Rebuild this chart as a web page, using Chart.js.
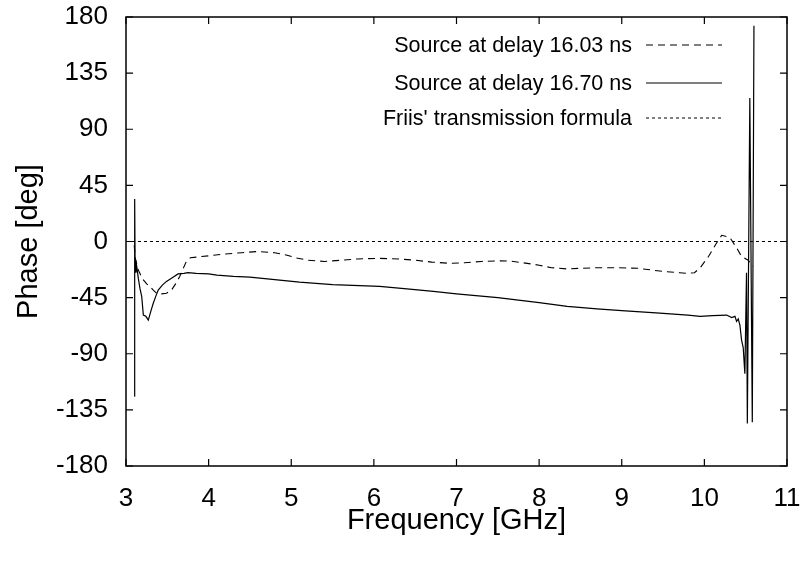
<!DOCTYPE html>
<html>
<head>
<meta charset="utf-8">
<script src="https://cdn.jsdelivr.net/npm/chart.js@4.4.1/dist/chart.umd.min.js"></script>
<style>
  html, body { margin: 0; padding: 0; background: #fff; }
  #wrap { width: 803px; height: 562px; position: relative; }
</style>
</head>
<body>
<div id="wrap"><canvas id="phaseChart"></canvas></div>
<script>
// Source at delay 16.03 ns (dashed)
const freqA = [3.10, 3.11, 3.15, 3.20, 3.25, 3.29, 3.33, 3.37, 3.43, 3.49, 3.55, 3.60, 3.65, 3.69, 3.73, 3.78,
    3.85, 4.00, 4.20, 4.40, 4.60, 4.80, 4.95, 5.05, 5.20, 5.40, 5.60, 5.80, 6.07, 6.30, 6.50, 6.70, 6.92,
    7.10, 7.30, 7.50, 7.65, 7.80, 8.00, 8.15, 8.34, 8.50, 8.70, 8.94, 9.20, 9.50, 9.70, 9.79, 9.88, 9.95,
    10.05, 10.14, 10.21, 10.27, 10.31, 10.38, 10.45, 10.53, 10.59];
const phaseA = [-3, -13, -23, -30, -34, -36, -39, -41.5, -42, -41.5, -39, -34, -28, -22, -16, -13,
    -12.5, -11.5, -10, -9, -8, -9, -11, -13, -15, -16, -15, -14, -13.5, -14, -15, -16.5, -17.5,
    -17, -16, -15.5, -15.7, -17, -19, -21, -22, -21.5, -21, -21, -21.5, -24, -25, -25.5, -25, -21,
    -12, -2, 5, 4, 3, -4, -12, -15, -20];

// Source at delay 16.70 ns (solid)
const freqB = [3.10, 3.105, 3.11, 3.12, 3.13, 3.15, 3.17, 3.19, 3.21, 3.24, 3.27, 3.30, 3.33, 3.36, 3.39,
    3.44, 3.49, 3.56, 3.63, 3.70, 3.75, 3.85, 4.00, 4.10, 4.30, 4.50, 4.80, 5.10, 5.50, 6.07, 6.40, 6.72,
    7.00, 7.50, 8.00, 8.34, 8.70, 9.00, 9.46, 9.80, 9.95, 10.10, 10.27, 10.33, 10.37, 10.39, 10.41, 10.43,
    10.45, 10.47, 10.49, 10.51, 10.52, 10.55, 10.58, 10.60];
const phaseB = [-124, 34, -15, -25, -20, -30, -38, -44, -59, -60, -63, -56, -49.5, -44, -39,
    -35, -32, -29, -26, -25.5, -25, -25.5, -26, -27, -28, -28.5, -30.5, -32.5, -34.5, -36, -38, -40,
    -42, -45, -49, -52, -54, -55.5, -57.5, -59, -60, -59.5, -59, -61, -60, -64, -62, -67,
    -79, -85, -106, -25, -146, 115, -145, 173];

// Friis' transmission formula
const freqF = [3, 11];
const phaseF = [0, 0];

const xTicks = [3, 4, 5, 6, 7, 8, 9, 10, 11];
const yTicks = [-180, -135, -90, -45, 0, 45, 90, 135, 180];

const seriesLabels = ['Source at delay 16.03 ns', 'Source at delay 16.70 ns', "Friis' transmission formula"];

const FONT = "'Liberation Sans', Arial, Helvetica, sans-serif";

function toPoints(xs, ys) {
    return xs.map((x, i) => ({ x: x, y: ys[i] }));
}

// labels may hang outside the plot box, so drop the padding Chart.js reserves for them
function noPad(axis) {
    axis.paddingTop = 0;
    axis.paddingBottom = 0;
    axis.paddingLeft = 0;
    axis.paddingRight = 0;
}

// frame, inward mirror ticks and the key, gnuplot style
const framePlugin = {
    id: 'frame',
    afterDraw(chart) {
        const ctx = chart.ctx;
        const a = chart.chartArea;
        const xs = chart.scales.x, ys = chart.scales.y;
        const tl = 7;
        ctx.save();
        ctx.strokeStyle = '#000';
        ctx.lineWidth = 1.5;
        ctx.setLineDash([]);
        ctx.strokeRect(a.left, a.top, a.right - a.left, a.bottom - a.top);
        ctx.lineWidth = 1.2;
        ctx.beginPath();
        xTicks.forEach(v => {
            const px = xs.getPixelForValue(v);
            ctx.moveTo(px, a.bottom); ctx.lineTo(px, a.bottom - tl);
            ctx.moveTo(px, a.top); ctx.lineTo(px, a.top + tl);
        });
        yTicks.forEach(v => {
            const py = ys.getPixelForValue(v);
            ctx.moveTo(a.left, py); ctx.lineTo(a.left + tl, py);
            ctx.moveTo(a.right, py); ctx.lineTo(a.right - tl, py);
        });
        ctx.stroke();

        // key
        const rows = [45, 83, 118];
        ctx.font = '21.5px ' + FONT;
        ctx.fillStyle = '#000';
        ctx.textAlign = 'right';
        ctx.textBaseline = 'middle';
        chart.data.datasets.forEach((ds, i) => {
            const y = rows[i];
            ctx.fillText(ds.label, 632, y + 1);
            ctx.setLineDash(ds.borderDash || []);
            ctx.lineWidth = ds.borderWidth;
            ctx.strokeStyle = ds.borderColor;
            ctx.beginPath();
            ctx.moveTo(646, y);
            ctx.lineTo(722, y);
            ctx.stroke();
        });
        ctx.restore();
    }
};

new Chart(document.getElementById('phaseChart'), {
    type: 'line',
    data: {
        datasets: [
            {
                label: seriesLabels[0],
                data: toPoints(freqA, phaseA),
                borderColor: '#000',
                borderWidth: 1.1,
                borderDash: [7, 5],
                pointRadius: 0,
                tension: 0
            },
            {
                label: seriesLabels[1],
                data: toPoints(freqB, phaseB),
                borderColor: '#000',
                borderWidth: 1.2,
                pointRadius: 0,
                tension: 0
            },
            {
                label: seriesLabels[2],
                data: toPoints(freqF, phaseF),
                borderColor: '#000',
                borderWidth: 1,
                borderDash: [3, 3],
                pointRadius: 0,
                tension: 0
            }
        ]
    },
    options: {
        responsive: true,
        maintainAspectRatio: false,
        animation: false,
        layout: { padding: { top: 17, right: 16, left: 0, bottom: 0 } },
        plugins: {
            legend: { display: false },
            tooltip: { enabled: false }
        },
        scales: {
            x: {
                type: 'linear',
                min: 3,
                max: 11,
                grid: { display: false, drawTicks: false },
                border: { display: false },
                afterBuildTicks: axis => { axis.ticks = xTicks.map(v => ({ value: v })); },
                afterFit: axis => { axis.height = 96; noPad(axis); },
                ticks: {
                    color: '#000',
                    padding: 17,
                    maxRotation: 0,
                    font: { family: FONT, size: 26 }
                },
                title: {
                    display: true,
                    text: 'Frequency [GHz]',
                    color: '#000',
                    font: { family: FONT, size: 29 },
                    padding: { top: 0, bottom: 24 }
                }
            },
            y: {
                type: 'linear',
                min: -180,
                max: 180,
                grid: { display: false, drawTicks: false },
                border: { display: false },
                afterBuildTicks: axis => { axis.ticks = yTicks.map(v => ({ value: v })); },
                afterFit: axis => { axis.width = 126; noPad(axis); },
                ticks: {
                    color: '#000',
                    padding: 18,
                    font: { family: FONT, size: 26 }
                },
                title: {
                    display: true,
                    text: 'Phase [deg]',
                    color: '#000',
                    font: { family: FONT, size: 29 },
                    padding: { top: 12, bottom: 0 }
                }
            }
        }
    },
    plugins: [framePlugin]
});
</script>
</body>
</html>
